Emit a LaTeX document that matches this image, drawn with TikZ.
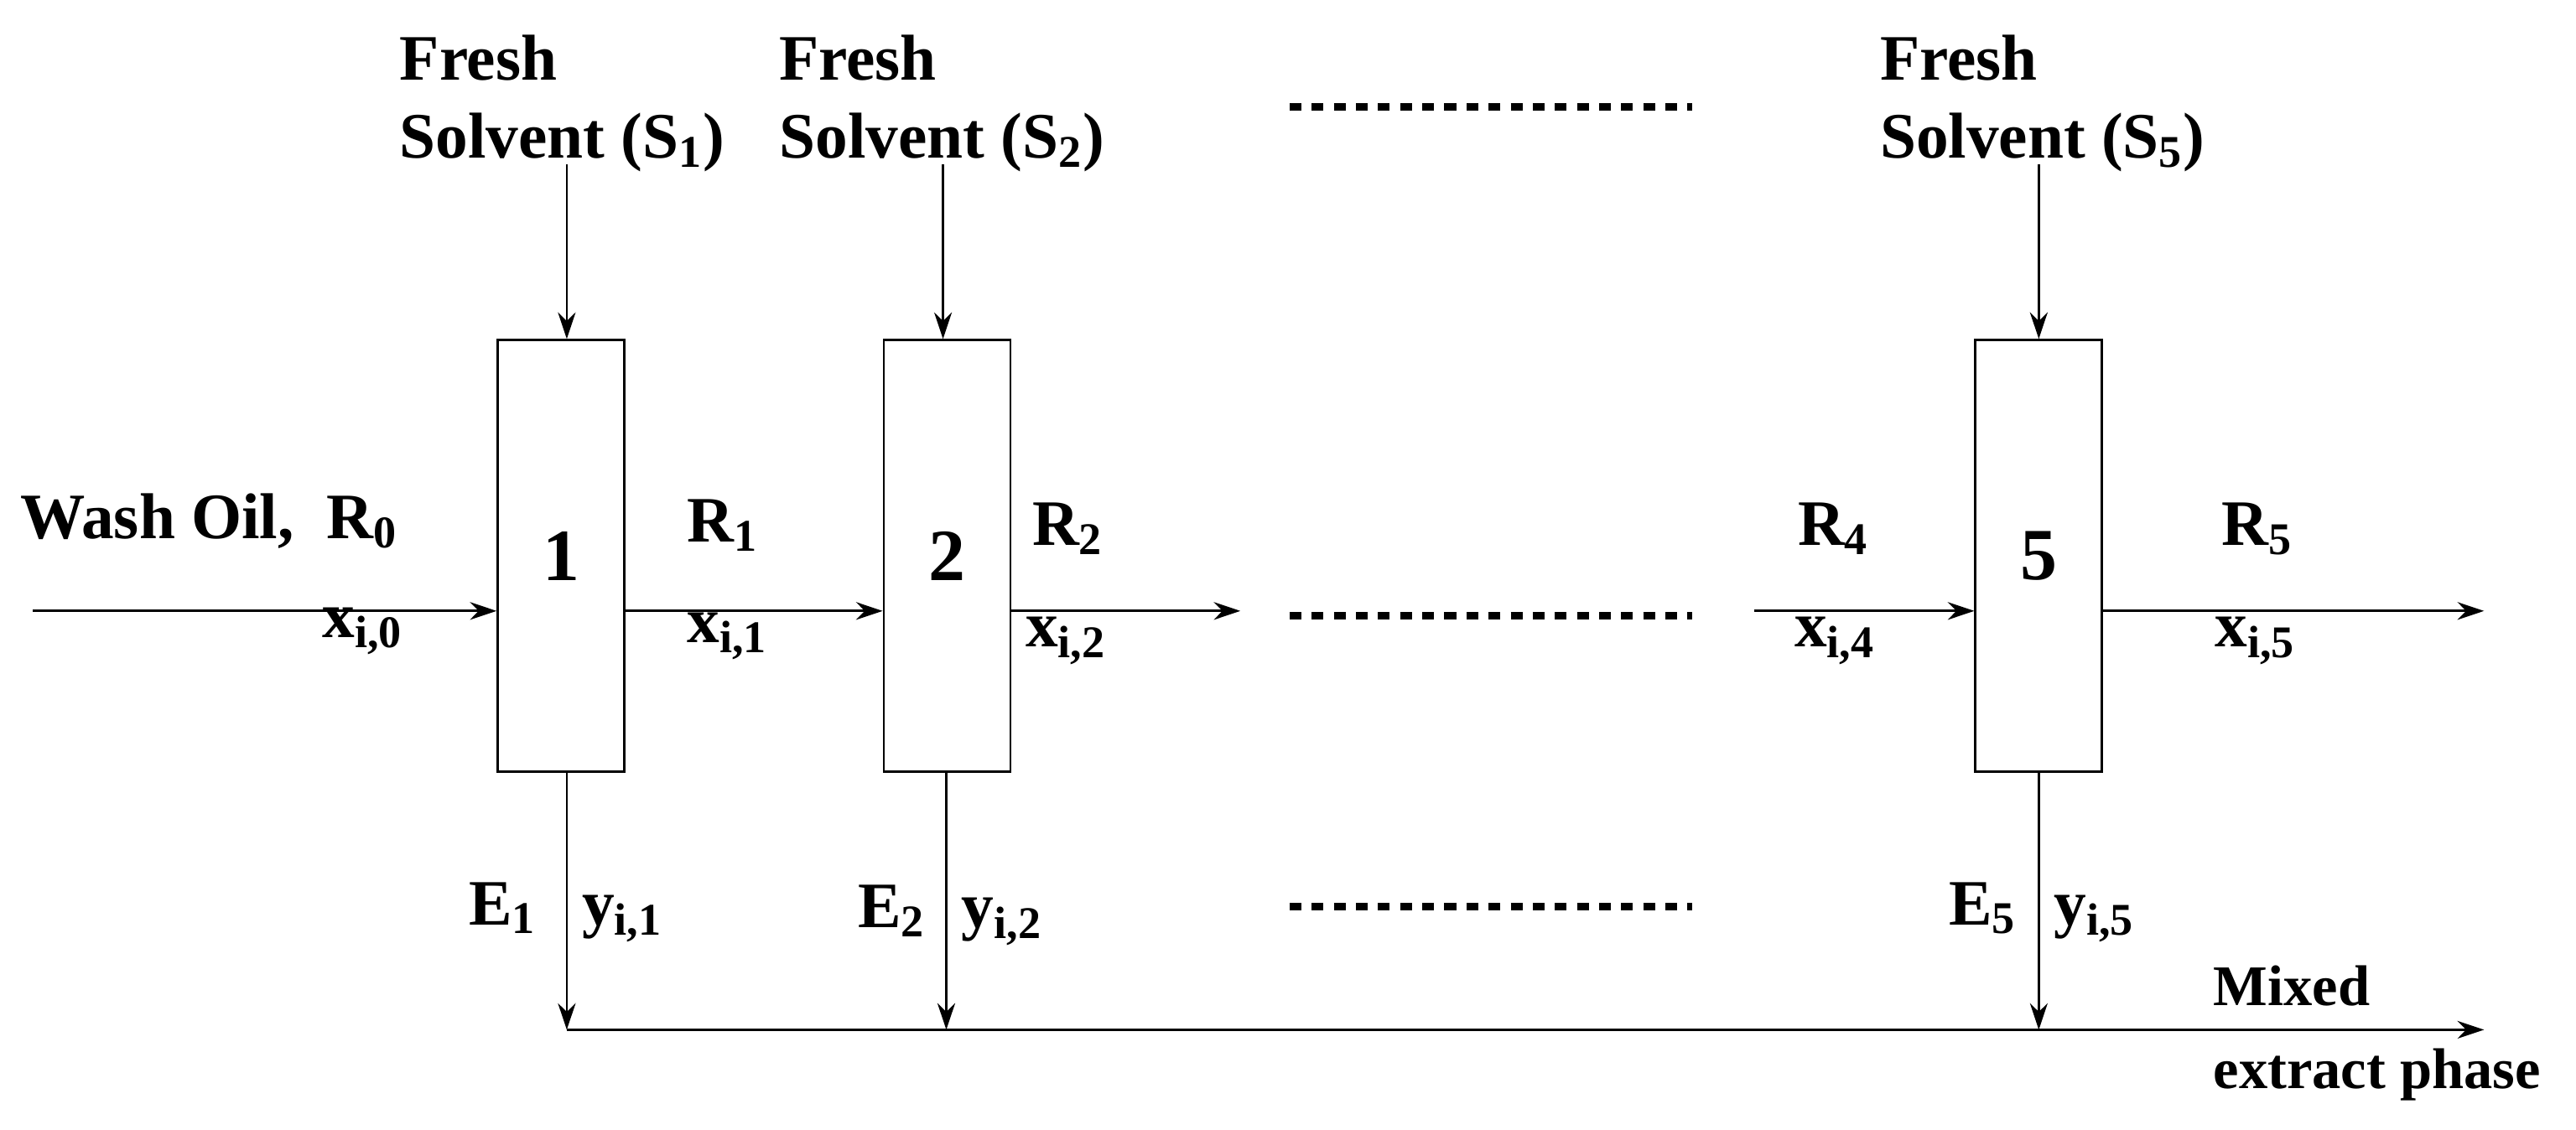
\documentclass[tikz,border=0pt]{standalone}
\usepackage{fontspec}
\setmainfont{Liberation Serif}
\usetikzlibrary{arrows.meta}
\newcommand{\sbs}[1]{\textsubscript{#1}}
\begin{document}
\begin{tikzpicture}[x=0.019592cm,y=-0.019592cm,
  lbl/.style={font=\fontsize{22}{24}\selectfont\bfseries,inner sep=0pt,anchor=base west},
  stage/.style={draw,line width=0.8pt,minimum width=1.51cm,minimum height=5.15cm,inner sep=0pt,font=\fontsize{25}{27}\selectfont\bfseries},
  flow/.style={line width=0.8pt,-{Stealth[length=9pt,width=6pt]}},
  dots/.style={line width=2.5pt,dash pattern=on 4pt off 3.5pt}]
\useasboundingbox (0,0) rectangle (1568,688);
% stages
\node[stage] (b1) at (341.5,338.5) {1};
\node[stage] (b2) at (576.5,338.5) {2};
\node[stage] (b5) at (1241,338.5) {5};
% solvent sources
\coordinate (s1) at (345,100);
\coordinate (s2) at (574,100);
\coordinate (s5) at (1241,100);
\draw[flow] (s1) -- (s1 |- b1.north);
\draw[flow] (s2) -- (s2 |- b2.north);
\draw[flow] (s5) -- (s5 |- b5.north);
% raffinate line
\coordinate (w0) at (20,372);
\draw[flow] (w0) -- (b1.west |- w0);
\coordinate (r2e) at (755,372);
\coordinate (r4s) at (1068,372);
\coordinate (r5e) at (1512,372);
\draw[flow] (b1.east |- w0) -- (b2.west |- w0);
\draw[flow] (b2.east |- w0) -- (r2e);
\draw[flow] (r4s) -- (b5.west |- w0);
\draw[flow] (b5.east |- w0) -- (r5e);
% extract
\coordinate (m1) at (345,627);
\coordinate (m2) at (576,627);
\coordinate (m5) at (1241,627);
\coordinate (me) at (1512,627);
\draw[flow] (m1 |- b1.south) -- (m1);
\draw[flow] (m2 |- b2.south) -- (m2);
\draw[flow] (m5 |- b5.south) -- (m5);
\draw[flow] (m1) -- (me);
% dotted
\draw[dots] (785,65) -- (1030,65);
\draw[dots] (785,375) -- (1030,375);
\draw[dots] (785,552) -- (1030,552);
% labels
\node[lbl] (f1) at (243,49) {Fresh};
\node[lbl] (sv1) at (243,96) {Solvent (S\sbs{1})};
\node[lbl] (f2) at (474,49) {Fresh};
\node[lbl] (sv2) at (474,96) {Solvent (S\sbs{2})};
\node[lbl] (f5) at (1144,49) {Fresh};
\node[lbl] (sv5) at (1144,96) {Solvent (S\sbs{5})};
\node[lbl] (wo) at (12,328) {Wash Oil,\ \ R\sbs{0}};
\node[lbl] (x0) at (196,388) {x\sbs{i,0}};
\node[lbl] (r1) at (418,330) {R\sbs{1}};
\node[lbl] (x1) at (418,391) {x\sbs{i,1}};
\node[lbl] (r2) at (628,332) {R\sbs{2}};
\node[lbl] (x2) at (624,394) {x\sbs{i,2}};
\node[lbl] (r4) at (1094,332) {R\sbs{4}};
\node[lbl] (x4) at (1092,394) {x\sbs{i,4}};
\node[lbl] (r5) at (1352,332) {R\sbs{5}};
\node[lbl] (x5) at (1348,394) {x\sbs{i,5}};
\node[lbl] (e1) at (285,563) {E\sbs{1}};
\node[lbl] (y1) at (354,563) {y\sbs{i,1}};
\node[lbl] (e2) at (522,565) {E\sbs{2}};
\node[lbl] (y2) at (585,565) {y\sbs{i,2}};
\node[lbl] (e5) at (1186,563) {E\sbs{5}};
\node[lbl] (y5) at (1250,563) {y\sbs{i,5}};
\node[lbl,font=\fontsize{19.5}{21}\selectfont\bfseries] (mx) at (1347,612) {Mixed};
\node[lbl,font=\fontsize{19.5}{21}\selectfont\bfseries] (ep) at (1347,663) {extract phase};
\end{tikzpicture}
\end{document}
